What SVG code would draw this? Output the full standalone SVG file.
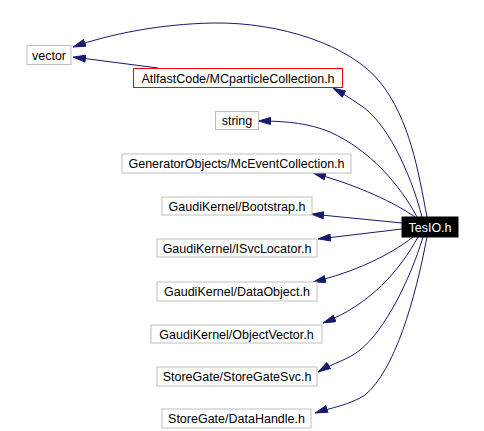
<svg xmlns="http://www.w3.org/2000/svg" width="484" height="431" viewBox="0 0 484 431">
<style>
.n rect{fill:#fff;stroke:#bfbfbf;stroke-width:1}
text{font-family:"Liberation Sans",Arial,sans-serif;font-size:12.5px;fill:#000;text-anchor:middle}
.e path{fill:none;stroke:#191970;stroke-width:1;marker-end:url(#a)}
</style>
<defs>
<marker id="a" markerUnits="userSpaceOnUse" markerWidth="13" markerHeight="8" viewBox="0 0 13 8" refX="13" refY="4" orient="auto">
<path d="M0.5,0.5L12.5,4L0.5,7.5z" fill="#191970" stroke="#191970"/>
</marker>
</defs>
<rect width="484" height="431" fill="#fff"/>
<g class="e">
<path d="M427,217 C418,170 410,120 380,82 C350,45 280,22 213,23 C160,24 110,34 73,47"/>
<path d="M158,68 L73,57"/>
<path d="M422,217 C410,170 385,120 360,105 C350,98 342,93 333,88"/>
<path d="M417,217 C400,185 370,150 330,132 C310,124 290,121 258,121"/>
<path d="M415,217 C395,203 360,186 313,173"/>
<path d="M402,223 L311,214"/>
<path d="M402,229 L318,239"/>
<path d="M413,237 C390,255 355,272 313,282"/>
<path d="M418,237 C400,270 370,305 323,323"/>
<path d="M423,237 C410,280 385,330 360,350 C348,360 333,363 318,372"/>
<path d="M427,237 C415,300 395,370 365,395 C350,405 330,408 315,413"/>
</g>
<g id="vector" class="n"><rect x="27" y="45.5" width="44" height="19"/><text x="49" y="59.5">vector</text></g>
<g id="atlfast" class="n"><rect x="133.5" y="68.5" width="209" height="19" style="stroke:#ff0000"/><text x="238" y="82.5">AtlfastCode/MCparticleCollection.h</text></g>
<g id="string" class="n"><rect x="215.5" y="111.5" width="43" height="18"/><text x="237" y="125">string</text></g>
<g id="mcevent" class="n"><rect x="122" y="154" width="229" height="19"/><text x="236.5" y="168">GeneratorObjects/McEventCollection.h</text></g>
<g id="bootstrap" class="n"><rect x="162" y="197" width="150" height="18"/><text x="237" y="210.5">GaudiKernel/Bootstrap.h</text></g>
<g id="tesio"><rect x="402" y="217" width="56" height="20" fill="#000" stroke="#000"/><text x="430" y="231.5" style="fill:#fff">TesIO.h</text></g>
<g id="isvc" class="n"><rect x="157" y="239" width="160" height="18"/><text x="237" y="252.5">GaudiKernel/ISvcLocator.h</text></g>
<g id="dataobject" class="n"><rect x="157" y="282" width="160" height="19"/><text x="237" y="296">GaudiKernel/DataObject.h</text></g>
<g id="objvec" class="n"><rect x="151" y="325" width="171" height="18"/><text x="236.5" y="338.5">GaudiKernel/ObjectVector.h</text></g>
<g id="sgsvc" class="n"><rect x="157" y="367" width="160" height="19"/><text x="237" y="381">StoreGate/StoreGateSvc.h</text></g>
<g id="datahandle" class="n"><rect x="162" y="409" width="149" height="19"/><text x="236.5" y="423">StoreGate/DataHandle.h</text></g>
</svg>
